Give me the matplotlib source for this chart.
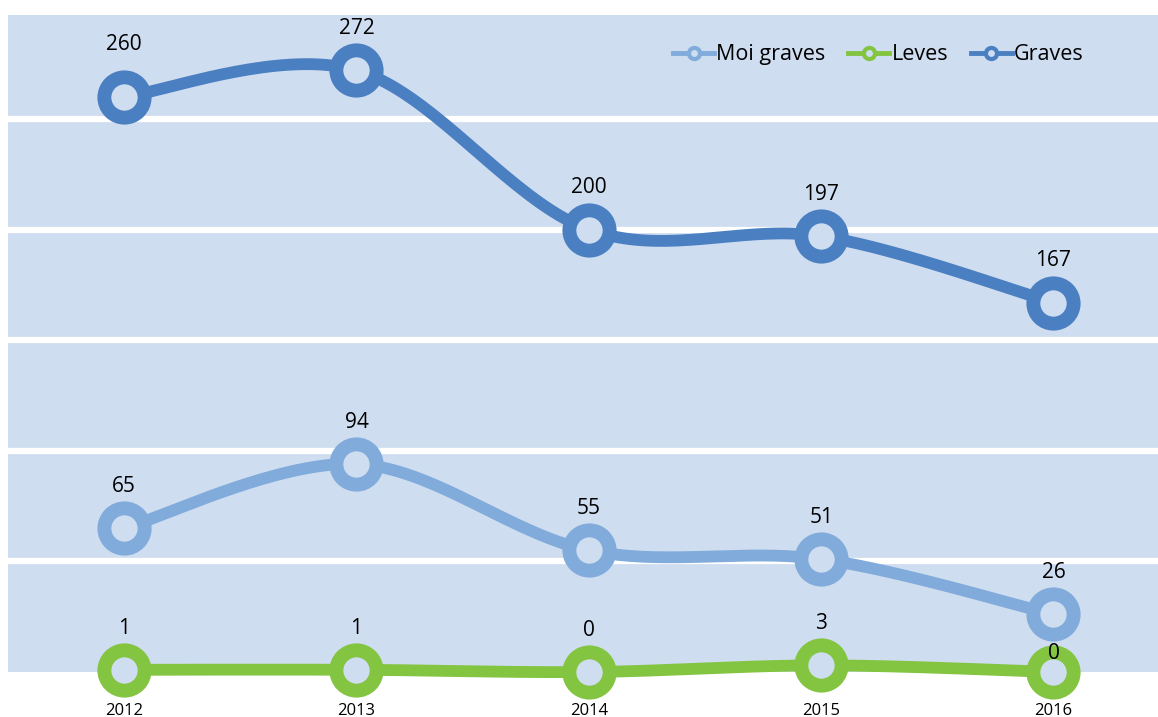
import numpy as np
import matplotlib.pyplot as plt
from matplotlib.lines import Line2D

anos = ['2012', '2013', '2014', '2015', '2016']
moi_graves = [65, 94, 55, 51, 26]
leves = [1, 1, 0, 3, 0]
graves = [260, 272, 200, 197, 167]

cor_fondo = '#cfddf0'
series = [
    ('Moi graves', moi_graves, '#80abdb'),
    ('Leves', leves, '#83c441'),
    ('Graves', graves, '#4a7fc1'),
]


def suavizar(y, pasos=40):
    # liña suavizada tipo Excel (Bezier / Catmull-Rom) entre os puntos
    x = np.arange(len(y), dtype=float)
    y = np.asarray(y, dtype=float)
    px = np.concatenate([[x[0]], x, [x[-1]]])
    py = np.concatenate([[y[0]], y, [y[-1]]])
    t = np.linspace(0, 1, pasos)
    xs, ys = [], []
    for i in range(1, len(px) - 2):
        for p, out in ((px, xs), (py, ys)):
            p0, p1, p2, p3 = p[i - 1], p[i], p[i + 1], p[i + 2]
            c1 = p1 + (p2 - p0) / 6
            c2 = p2 - (p3 - p1) / 6
            out.extend((1 - t)**3 * p1 + 3 * (1 - t)**2 * t * c1
                       + 3 * (1 - t) * t**2 * c2 + t**3 * p2)
    return xs, ys


plt.rcParams['font.family'] = ['Open Sans', 'DejaVu Sans']

fig = plt.figure(figsize=(11.58, 7.17), dpi=100)
ax = fig.add_axes([8 / 1158, (717 - 672) / 717, 1150 / 1158, (672 - 15) / 717])
ax.set_facecolor(cor_fondo)

# axustes das etiquetas que Excel moveu
desprazamento = {('Graves', 0): 38, ('Leves', 4): 13}

handles = []
for nome, valores, cor in series:
    xs, ys = suavizar(valores)
    ax.plot(xs, ys, color=cor, lw=8.5, solid_capstyle='round', clip_on=False, zorder=3)
    ax.plot(range(len(valores)), valores, 'o', ms=29, mew=10, mec=cor,
            mfc=cor_fondo, clip_on=False, zorder=4)
    for i, v in enumerate(valores):
        ax.annotate(str(v), (i, v), xytext=(0, desprazamento.get((nome, i), 30)),
                    textcoords='offset points', ha='center', va='center',
                    fontsize=15, zorder=5)
    handles.append(Line2D([], [], color=cor, lw=3.5, marker='o', ms=8, mew=3,
                          mec=cor, mfc=cor_fondo, label=nome))

ax.set_xlim(-0.5, 4.45)
ax.set_ylim(0, 297)
ax.set_xticks(range(len(anos)))
ax.set_xticklabels(anos, fontsize=12)
ax.set_yticks([50, 100, 150, 200, 250])
ax.set_yticklabels([])
ax.tick_params(length=0, axis='x', pad=22)
ax.tick_params(length=0, axis='y')
ax.grid(axis='y', color='white', lw=4.5)
ax.set_axisbelow(True)
for s in ax.spines.values():
    s.set_visible(False)

ax.legend(handles=handles, loc='upper right', bbox_to_anchor=(0.952, 0.985), ncol=3,
          frameon=False, fontsize=15.5, handlelength=1.9, handletextpad=0.1,
          columnspacing=1.05)

fig.savefig('out.png', dpi=100)
